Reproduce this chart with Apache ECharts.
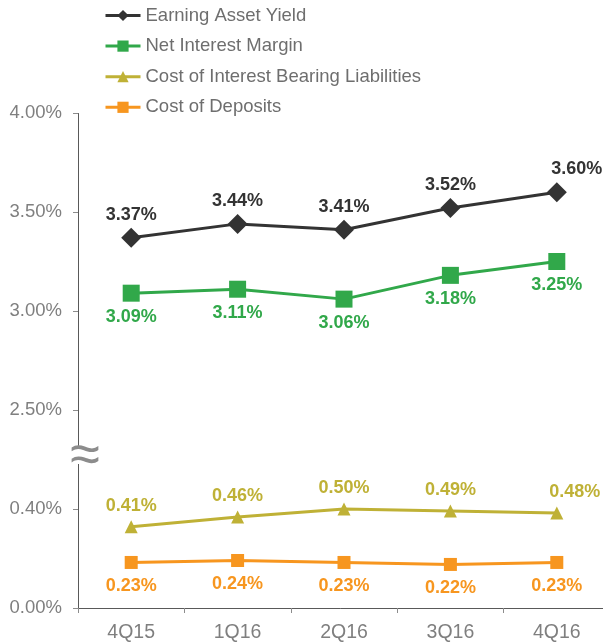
<!DOCTYPE html>
<html>
<head>
<meta charset="utf-8">
<script src="https://cdn.jsdelivr.net/npm/echarts@6/dist/echarts.min.js"></script>
<style>
html,body{margin:0;padding:0;background:#fff;}
#chart{width:603px;height:644px;}
</style>
</head>
<body>
<div id="chart"></div>
<script>
const categories = ['4Q15', '1Q16', '2Q16', '3Q16', '4Q16'];
const earningAssetYield = [3.37, 3.44, 3.41, 3.52, 3.60];
const netInterestMargin = [3.09, 3.11, 3.06, 3.18, 3.25];
const costInterestBearing = [0.41, 0.46, 0.50, 0.49, 0.48];
const costDeposits = [0.23, 0.24, 0.23, 0.22, 0.23];
const yTickValues = [0, 0.5, 2.5, 3.0, 3.5, 4.0];
const yTickLabels = ['0.00%', '0.40%', '2.50%', '3.00%', '3.50%', '4.00%'];
const seriesNames = ['Earning Asset Yield', 'Net Interest Margin', 'Cost of Interest Bearing Liabilities', 'Cost of Deposits'];

const FONT = '"Liberation Sans", Arial, sans-serif';
const chart = echarts.init(document.getElementById('chart'), null, {renderer: 'canvas'});

function lastShift(arr, dx) {
  return arr.map((v, i) => i === arr.length - 1 ? {value: v, label: {offset: [dx, 0]}} : v);
}
function pct(p) { return p.value.toFixed(2) + '%'; }
function mkSeries(name, data, color, symbol, size, pos, dist) {
  return {
    name: name, type: 'line', data: data,
    symbol: symbol, symbolSize: size,
    lineStyle: {color: color, width: 3},
    itemStyle: {color: color},
    label: {show: true, position: pos, distance: dist, color: color,
      fontFamily: FONT, fontWeight: 'bold', fontSize: 18, formatter: pct},
    emphasis: {disabled: true},
    animation: false
  };
}

const AXIS_COLOR = '#595959';
const option = {
  backgroundColor: '#ffffff',
  animation: false,
  textStyle: {fontFamily: FONT},
  legend: {
    orient: 'vertical', left: 104, top: 6, padding: 0,
    itemWidth: 35, itemHeight: 14, itemGap: 11.6,
    lineStyle: {width: 3},
    textStyle: {fontFamily: FONT, fontSize: 18.5, color: '#6e6e6e'},
    data: seriesNames
  },
  grid: {left: 78, top: 113, width: 532, height: 495, containLabel: false, outerBoundsMode: 'none'},
  xAxis: {
    type: 'category', data: categories, boundaryGap: true,
    axisLine: {lineStyle: {color: AXIS_COLOR, width: 1}},
    axisTick: {show: true, length: 5, lineStyle: {color: '#8c8c8c'}},
    axisLabel: {fontFamily: FONT, fontSize: 19.5, color: '#7f7f7f', margin: 15},
    splitLine: {show: false}
  },
  yAxis: {
    type: 'value', min: 0, max: 4, interval: 0.5,
    breaks: [{start: 0.5, end: 2.5, gap: '20%'}],
    breakArea: {show: false},
    axisLine: {show: true, lineStyle: {color: AXIS_COLOR, width: 1}},
    axisTick: {show: true, length: 5, lineStyle: {color: '#8c8c8c'}},
    splitLine: {show: false},
    axisLabel: {
      fontFamily: FONT, fontSize: 18.5, color: '#7f7f7f', margin: 16,
      formatter: function (v) {
        const i = yTickValues.findIndex(t => Math.abs(t - v) < 1e-6);
        return i >= 0 ? yTickLabels[i] : '';
      }
    }
  },
  graphic: [
    {type: 'line', z: 90, shape: {x1: 78.5, y1: 409, x2: 78.5, y2: 448},
      style: {stroke: AXIS_COLOR, lineWidth: 1}},
    {type: 'line', z: 90, shape: {x1: 78.5, y1: 464, x2: 78.5, y2: 510},
      style: {stroke: AXIS_COLOR, lineWidth: 1}},
    {type: 'text', x: 85, y: 457, z: 100,
      style: {text: '\u2248', font: '54px "Liberation Sans"', fill: '#8c8c8c',
        align: 'center', verticalAlign: 'middle'}}
  ],
  series: [
    mkSeries(seriesNames[0], lastShift(earningAssetYield, 20), '#333333', 'diamond', 20, 'top', 4),
    mkSeries(seriesNames[1], netInterestMargin, '#31a84a', 'rect', 17, 'bottom', 6),
    mkSeries(seriesNames[2], lastShift(costInterestBearing, 18), '#bfb136', 'triangle', 13, 'top', 5),
    mkSeries(seriesNames[3], costDeposits, '#f7961f', 'rect', 13, 'bottom', 8)
  ]
};
chart.setOption(option);
</script>
</body>
</html>
